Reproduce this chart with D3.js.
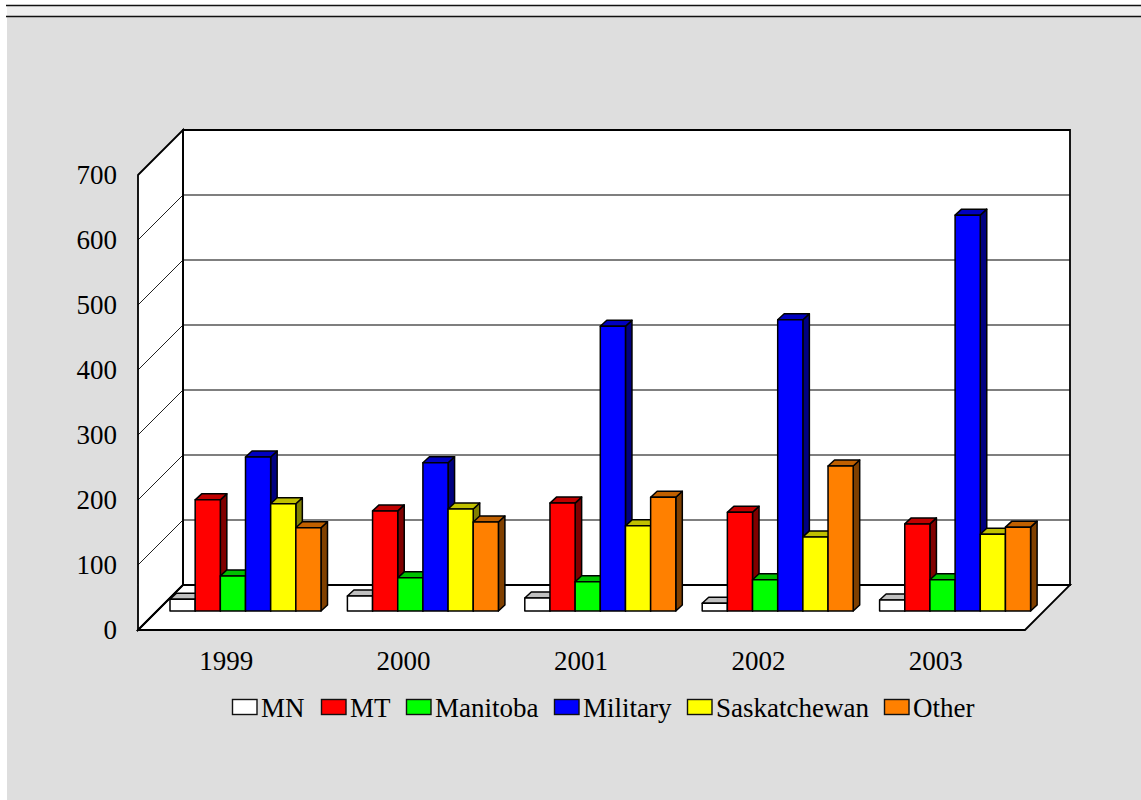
<!DOCTYPE html>
<html><head><meta charset="utf-8">
<script src="https://cdn.jsdelivr.net/npm/d3@7/dist/d3.min.js"></script>
<style>html,body{margin:0;padding:0;background:#fff}svg{display:block}text{font-family:"Liberation Serif",serif;fill:#000}</style>
</head><body><svg id="c" width="1141" height="800"></svg>
<script>
const years=["1999","2000","2001","2002","2003"];
const seriesNames=["MN","MT","Manitoba","Military","Saskatchewan","Other"];
const fills=["#ffffff","#ff0000","#00ff00","#0000ff","#ffff00","#ff8000"];
const tops=["#c0c0c0","#c00000","#00c000","#0000c0","#c0c000","#c06000"];
const sides=["#808080","#800000","#008000","#000080","#808000","#804000"];
const MN=[18,23,20,12,17];
const MT=[171,154,166,152,134];
const Manitoba=[54,51,45,48,48];
const Military=[237,228,438,448,609];
const Saskatchewan=[165,157,131,114,118];
const Other=[128,137,175,223,129];
const seriesValues=[MN,MT,Manitoba,Military,Saskatchewan,Other];
const yTicks=[0,100,200,300,400,500,600,700];

const svg=d3.select("#c");
svg.append("rect").attr("x",7).attr("y",16).attr("width",1134).attr("height",784).attr("fill","#dedede");
svg.append("rect").attr("x",7).attr("y",5).attr("width",1134).attr("height",11).attr("fill","#eeeeee");
[5.5,16.5].forEach(y=>svg.append("line").attr("x1",6).attr("x2",1141).attr("y1",y).attr("y2",y).attr("stroke","#111").attr("stroke-width",1.4));

const L=138,R=1025,B=630,T=175,D=45;
const y=d3.scaleLinear().domain([0,700]).range([B,T]);
const x0=d3.scaleBand().domain(years).range([L,R]);
const barOff=19,bdx=6.5,bdy=6;
const inner=d3.scaleBand().domain(seriesNames).range([13,x0.bandwidth()-13.4]);
const pt=a=>a.map(p=>p.join(",")).join(" ");
const g=svg.append("g");
const back=[[L+D,T-D],[R+D,T-D],[R+D,B-D],[L+D,B-D]],
      left=[[L,T],[L+D,T-D],[L+D,B-D],[L,B]],
      floor=[[L,B],[L+D,B-D],[R+D,B-D],[R,B]];
[back,left,floor].forEach(p=>g.append("polygon").attr("points",pt(p)).attr("fill","#fff"));
yTicks.slice(1,-1).forEach(t=>{
  g.append("line").attr("x1",L+D).attr("x2",R+D).attr("y1",y(t)-D).attr("y2",y(t)-D).attr("stroke","#555").attr("stroke-width",1.4);
  g.append("line").attr("x1",L).attr("x2",L+D).attr("y1",y(t)).attr("y2",y(t)-D).attr("stroke","#222").attr("stroke-width",1);
});
[back,left,floor].forEach(p=>g.append("polygon").attr("points",pt(p)).attr("fill","none").attr("stroke","#000").attr("stroke-width",1.8));
const base=y(0)-barOff, h=v=>y(0)-y(v);
years.forEach((yr,i)=>{
  const gx=x0(yr)+barOff;
  const bg=svg.append("g").attr("stroke","#000").attr("stroke-width",1.5).attr("stroke-linejoin","round");
  seriesNames.forEach((s,j)=>{
    const v=seriesValues[j][i],xl=gx+inner(s),w=inner.bandwidth(),t=base-h(v);
    bg.append("polygon").attr("points",pt([[xl+w,t],[xl+w+bdx,t-bdy],[xl+w+bdx,base-bdy],[xl+w,base]])).attr("fill",sides[j]);
    bg.append("polygon").attr("points",pt([[xl,t],[xl+bdx,t-bdy],[xl+w+bdx,t-bdy],[xl+w,t]])).attr("fill",tops[j]);
    bg.append("rect").attr("x",xl).attr("y",t).attr("width",w).attr("height",base-t).attr("fill",fills[j]);
  });
});
const fs=27;
const axisY=svg.append("g").attr("transform",`translate(${L},0)`).call(d3.axisLeft(y).tickValues(yTicks).tickSize(0).tickPadding(21));
axisY.select(".domain").remove();
axisY.selectAll("text").attr("font-size",fs).attr("font-family",'"Liberation Serif",serif').attr("fill","#000");
const axisX=svg.append("g").attr("transform",`translate(-0.5,${B})`).call(d3.axisBottom(x0).tickSize(0).tickPadding(21));
axisX.select(".domain").remove();
axisX.selectAll("text").attr("font-size",fs).attr("font-family",'"Liberation Serif",serif').attr("fill","#000");
const legendX=[232,321,406,554,687,884];
const leg=svg.append("g");
seriesNames.forEach((s,j)=>{
  leg.append("rect").attr("x",legendX[j]+.5).attr("y",699.5).attr("width",24.5).attr("height",15).attr("fill",fills[j]).attr("stroke","#111").attr("stroke-width",1.4);
  leg.append("text").attr("x",legendX[j]+29).attr("y",717).attr("font-size",fs).text(s);
});
</script></body></html>
